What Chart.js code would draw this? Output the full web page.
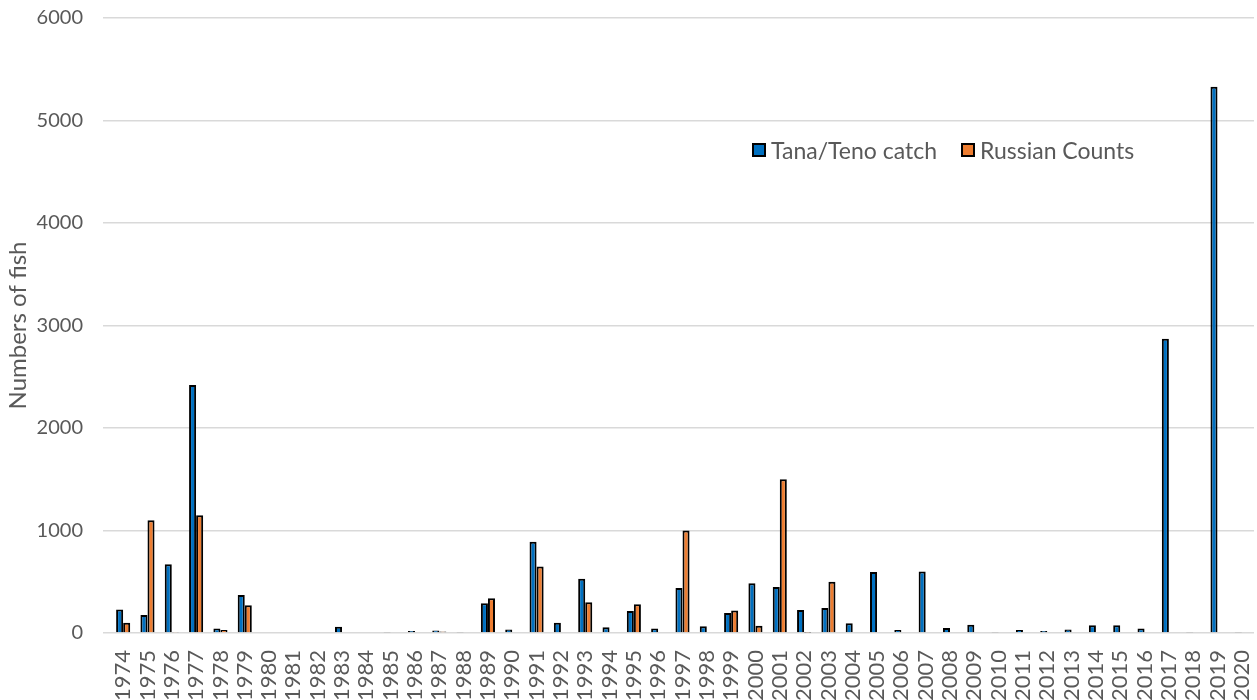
<!DOCTYPE html>
<html>
<head>
<meta charset="utf-8">
<script src="https://cdn.jsdelivr.net/npm/chart.js@4"></script>
<style>
  html,body{margin:0;padding:0;background:#fff;overflow:hidden}
  #wrap{position:relative;width:1257px;height:700px;overflow:hidden}
  #box{position:absolute;left:0;top:0;width:1257px;height:712px}
  .leg{position:absolute;top:134px;left:752px;font:23px Lato,sans-serif;color:#595959;white-space:nowrap}
  .leg span{display:inline-flex;align-items:center;margin-right:24px}
  .leg i{display:inline-block;width:10px;height:10px;border:2px solid #000;margin-right:5px}
</style>
</head>
<body>
<div id="wrap">
  <div id="box"><canvas id="c"></canvas></div>
  <div class="leg" id="leg"></div>
</div>
<script>
// years 1974–2020
const YEARS=['1974','1975','1976','1977','1978','1979','1980','1981','1982','1983','1984','1985','1986','1987','1988','1989','1990',
  '1991','1992','1993','1994','1995','1996','1997','1998','1999','2000','2001','2002','2003','2004','2005','2006','2007','2008',
  '2009','2010','2011','2012','2013','2014','2015','2016','2017','2018','2019','2020'];
const TANA=[230,175,670,2420,45,370,8,null,null,60,null,5,20,25,5,290,35,
  890,100,530,55,215,45,440,65,195,485,450,225,245,95,595,30,600,50,
  80,5,30,20,35,75,75,45,2870,5,5330,5];
const RUSSIA=[100,1100,10,1150,30,270,null,null,null,null,null,null,null,15,null,340,null,
  650,null,300,null,280,null,1000,null,220,70,1500,3,500,null,null,null,null,null,
  null,null,null,null,null,null,null,null,null,null,null,null];
const Y_TICKS=[0,1000,2000,3000,4000,5000,6000];

const TXT='#595959', GRID='#d9d9d9';
const BLUE='#0070C0', ORANGE='#ED7D31';

const series=[
  {label:'Tana/Teno catch',data:TANA,color:BLUE},
  {label:'Russian Counts',data:RUSSIA,color:ORANGE},
];

document.getElementById('leg').innerHTML=series.map(s=>`<span><i style="background:${s.color}"></i>${s.label}</span>`).join('');

new Chart(document.getElementById('c'),{type:'bar',
  data:{labels:YEARS,datasets:series.map(s=>({label:s.label,data:s.data,backgroundColor:s.color,
    borderColor:'#000',borderWidth:2,categoryPercentage:0.58,barPercentage:1}))},
  options:{responsive:true,maintainAspectRatio:false,animation:false,
    layout:{padding:{top:18,right:3,left:0,bottom:0}},
    plugins:{legend:{display:false},tooltip:{enabled:false}},
    scales:{
      x:{grid:{display:false},border:{display:false},
        ticks:{color:TXT,font:{family:'Lato',size:22},minRotation:90,maxRotation:90,autoSkip:false,padding:9},
        afterFit:s=>{s.height=712-633;s.paddingLeft=0;s.paddingRight=0;}},
      y:{min:0,max:6000,grid:{color:GRID,lineWidth:1.5},border:{display:false},
        afterBuildTicks:s=>{s.ticks=Y_TICKS.map(v=>({value:v}));},
        ticks:{color:TXT,font:{family:'Lato',size:20},padding:20,callback:v=>String(v)},
        title:{display:true,text:'Numbers of fish',color:TXT,font:{family:'Lato',size:24},padding:{top:4,bottom:2}},
        afterFit:s=>{s.width=111;s.paddingTop=0;s.paddingBottom=0;}}
    }}});
</script>
</body>
</html>
